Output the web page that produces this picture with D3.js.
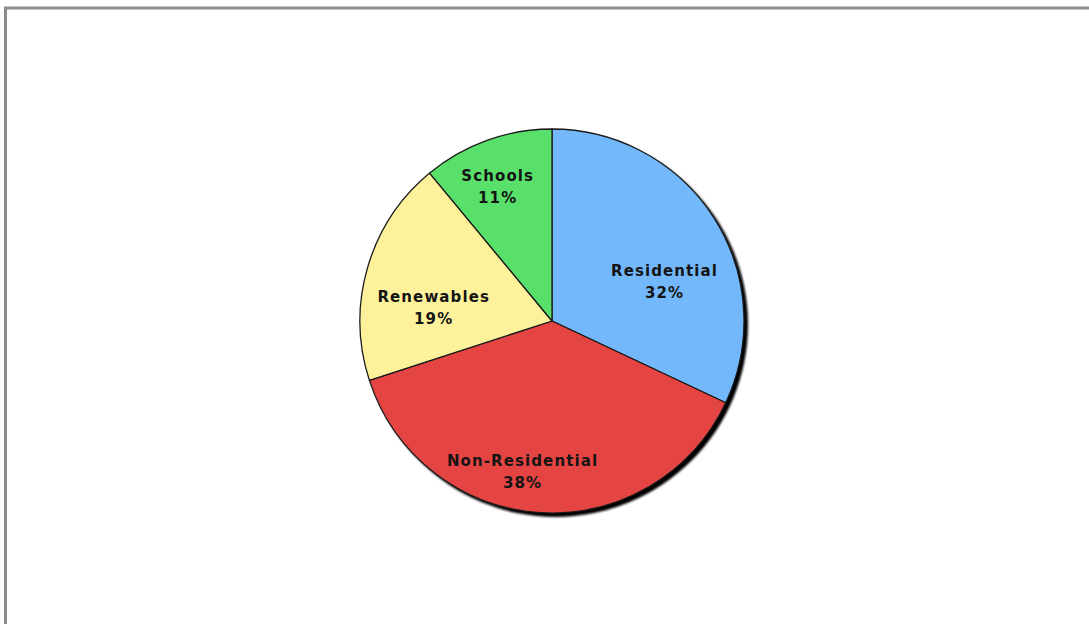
<!DOCTYPE html>
<html>
<head>
<meta charset="utf-8">
<script src="https://cdn.jsdelivr.net/npm/d3@7"></script>
<style>
  html, body { margin: 0; padding: 0; background: #fff; }
  svg { display: block; }
</style>
</head>
<body>
<svg id="chart" width="1089" height="624"></svg>
<script>
// ---- data ----
const categories = ["Residential", "Non-Residential", "Renewables", "Schools"];
const values = [32, 38, 19, 11];
const percentLabels = ["32%", "38%", "19%", "11%"];

// ---- styles / layout (kept separate from data) ----
const colors = ["#72b8fb", "#e44543", "#fdf29b", "#58e06b"];
const labelOffsets = [[12, 24], [-22, 31], [-4, 19], [-14, -23]];

const W = 1089, H = 624;
const cx = 552, cy = 321, R = 192;

const svg = d3.select("#chart");

// frame
svg.append("rect")
  .attr("x", 5.5).attr("y", 8)
  .attr("width", W + 40).attr("height", H + 40)
  .attr("fill", "#fff")
  .attr("stroke", "#8c8c8c")
  .attr("stroke-width", 3);

const defs = svg.append("defs");
defs.append("filter").attr("id", "blur")
  .attr("x", "-10%").attr("y", "-10%").attr("width", "120%").attr("height", "120%")
  .append("feGaussianBlur").attr("stdDeviation", 0.8);

const g = svg.append("g").attr("transform", `translate(${cx},${cy})`);

// shadow
g.append("circle")
  .attr("cx", 3.5).attr("cy", 3.5).attr("r", R + 0.5)
  .attr("fill", "#000")
  .attr("filter", "url(#blur)");

const pie = d3.pie().sort(null).value(d => d)(values);
const arc = d3.arc().innerRadius(0).outerRadius(R);
const labelArc = d3.arc().innerRadius(R * 0.62).outerRadius(R * 0.62);

g.selectAll("path.slice")
  .data(pie)
  .join("path")
  .attr("class", "slice")
  .attr("d", arc)
  .attr("fill", (d, i) => colors[i])
  .attr("stroke", "#1a1a1a")
  .attr("stroke-width", 1.3)
  .attr("stroke-linejoin", "round");

const labels = g.selectAll("text.lbl")
  .data(pie)
  .join("text")
  .attr("class", "lbl")
  .attr("text-anchor", "middle")
  .attr("font-family", "'DejaVu Sans', Verdana, sans-serif")
  .attr("font-weight", "bold")
  .attr("font-size", 15)
  .attr("letter-spacing", 1.1)
  .attr("fill", "#141414")
  .attr("transform", (d, i) => {
    const c = labelArc.centroid(d);
    return `translate(${c[0] + labelOffsets[i][0]},${c[1] + labelOffsets[i][1]})`;
  });

labels.append("tspan").attr("x", 0).attr("y", -5).text((d, i) => categories[i]);
labels.append("tspan").attr("x", 0).attr("y", 17).text((d, i) => percentLabels[i]);
</script>
</body>
</html>
